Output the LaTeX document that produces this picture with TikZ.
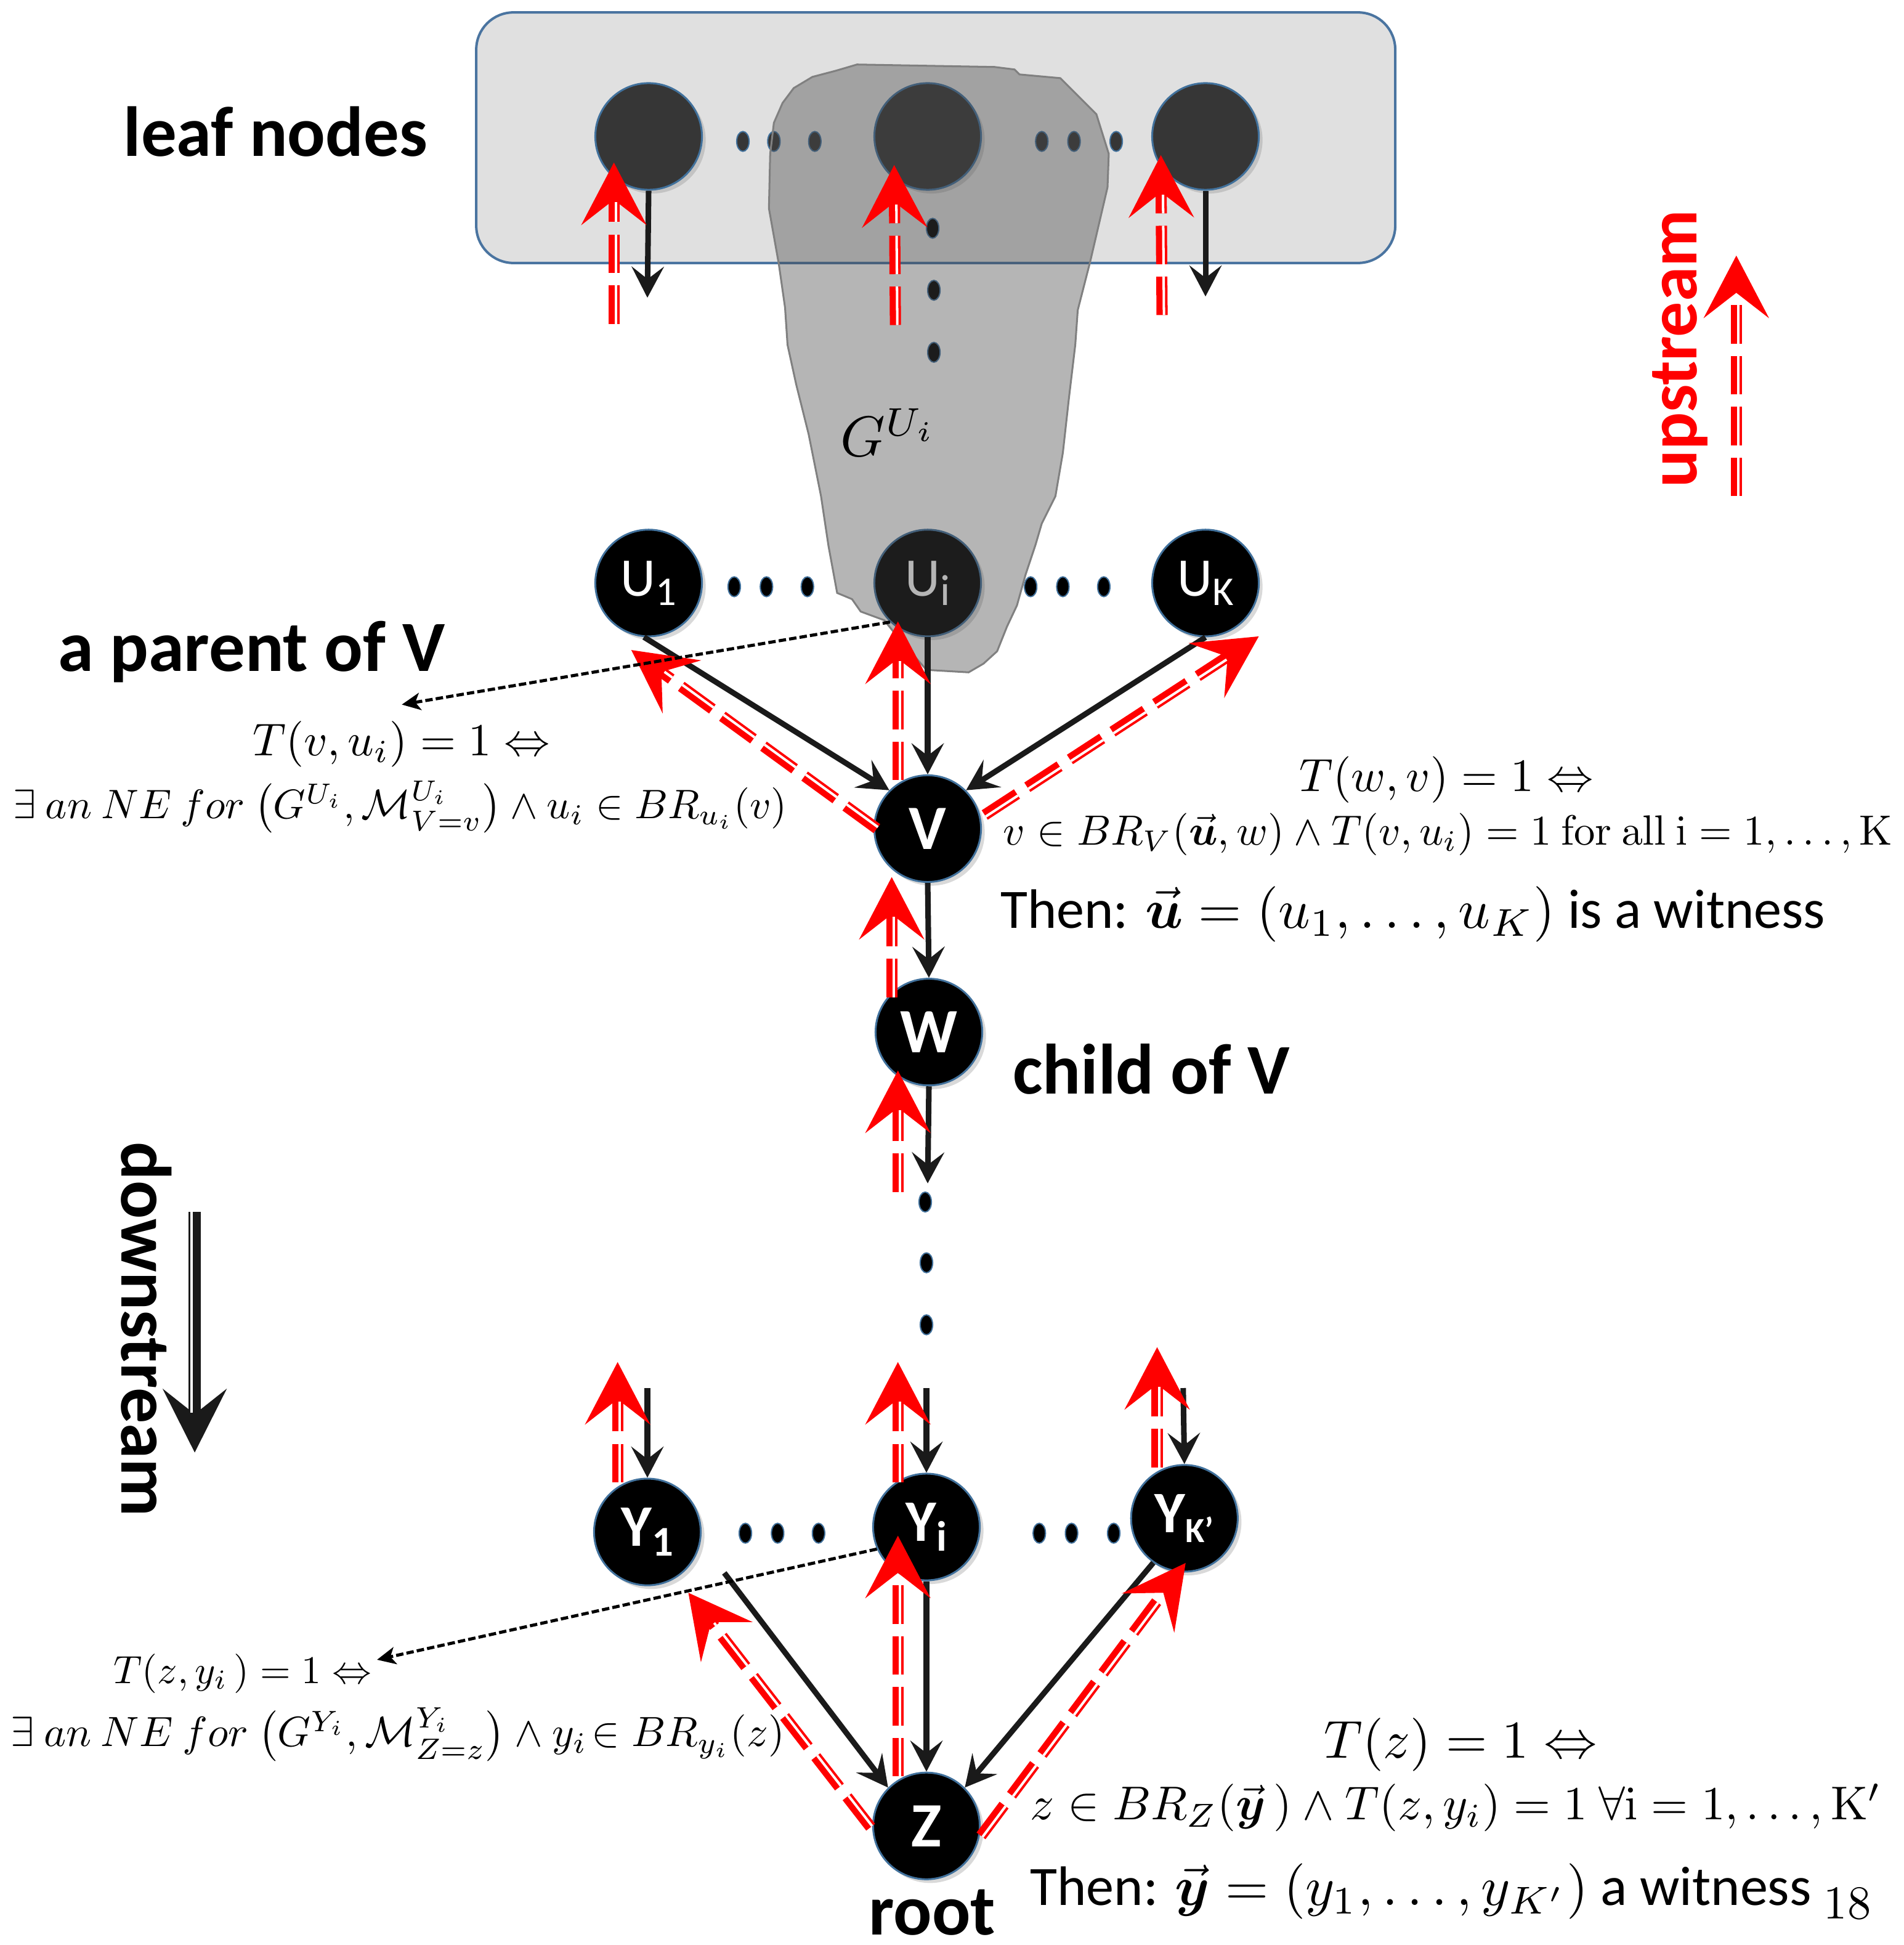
\documentclass[tikz,border=0pt]{standalone}
\usepackage{amsmath,amssymb}
\usepackage[no-math]{fontspec}
\setmainfont{Carlito}
\usepackage{graphicx}
\usetikzlibrary{arrows.meta,calc,shapes.geometric,shadows}
\definecolor{nodeedge}{HTML}{41719C}
\definecolor{leafgray}{HTML}{363636}
\definecolor{boxgray}{HTML}{E0E0E0}
\definecolor{boxedge}{HTML}{4A74A0}
\definecolor{blobfill}{RGB}{70,70,70}
\definecolor{blobedge}{RGB}{128,128,128}
\definecolor{arrred}{HTML}{FF0000}
\definecolor{arrblack}{HTML}{1A1A1A}
\newcommand\lsub[2][0.72]{\raisebox{-0.35ex}{\scalebox{#1}{#2}}}
\newcommand\redarr[2]{%
  \draw[redmain] (#1) -- (#2);
  \draw[redstripe] ($(#1)!0.15mm!-90:(#2)$) -- ($(#2)!0.15mm!90:(#1)$);
}
\tikzset{
  gnode/.style={circle, fill=black, draw=nodeedge, line width=0.15mm, minimum size=8.6mm, inner sep=0pt, text=white,
    font=\fontsize{14.5}{15}\selectfont\bfseries,
    drop shadow={shadow xshift=0.3mm, shadow yshift=-0.3mm, opacity=0.3}},
  leafnode/.style={gnode, fill=leafgray},
  unode/.style={gnode, font=\fontsize{12.5}{13}\selectfont},
  dotn/.style={ellipse, fill=black, draw=nodeedge, line width=0.1mm, minimum width=1mm, minimum height=1.6mm, inner sep=0pt},
  leafdot/.style={dotn, fill=leafgray},
  blk/.style={draw=arrblack, line width=0.45mm, -{Stealth[length=2.5mm,width=2.6mm,inset=1mm]}},
  redmain/.style={draw=arrred, line width=0.9mm, dash pattern=on 3.1mm off 1mm, -{Stealth[length=5mm,width=5.2mm,inset=2mm]}},
  redstripe/.style={draw=white, line width=0.2mm, dash pattern=on 3.1mm off 1mm, shorten >=3.2mm},
  ptr/.style={draw=black, line width=0.25mm, dash pattern=on 0.6mm off 0.25mm, -{Stealth[length=1.5mm,width=1.4mm,inset=0.4mm]}},
  heading/.style={inner sep=0pt, font=\bfseries, anchor=base west},
  mtext/.style={inner sep=0pt, anchor=base west},
}
\begin{document}
\begin{tikzpicture}[x=0.1mm,y=-0.1mm]
\useasboundingbox (0,0) rectangle (1535,1568);

% leaf box
\draw[fill=boxgray, draw=boxedge, line width=0.2mm, rounded corners=3mm] (384,10) rectangle (1125,212);

% leaf nodes and dots
\node[leafnode] (L1) at (523,110) {};
\node[leafnode] (L2) at (748,110) {};
\node[leafnode] (L3) at (972,110) {};
\node[leafdot] (ld1) at (599,114) {};
\node[leafdot] (ld2) at (624,114) {};
\node[leafdot] (ld3) at (657,114) {};
\node[leafdot] (ld4) at (840,114) {};
\node[leafdot] (ld5) at (866,114) {};
\node[leafdot] (ld6) at (900,114) {};
\node[dotn] (vd1) at (752,184) {};
\node[dotn] (vd2) at (753,234) {};
\node[dotn] (vd3) at (753,284) {};

% parents
\node[unode] (U1) at (523,470) {U\lsub[0.75]{1}};
\node[unode] (Ui) at (748,470) {U\lsub[0.8]{i}};
\node[unode] (UK) at (972,470) {U\lsub[0.75]{K}};
\node[dotn] (ud1) at (592,473) {};
\node[dotn] (ud2) at (618,473) {};
\node[dotn] (ud3) at (651,473) {};
\node[dotn] (ud4) at (831,473) {};
\node[dotn] (ud5) at (857,473) {};
\node[dotn] (ud6) at (890,473) {};

% subgame blob
\draw[fill=blobfill, fill opacity=0.4, draw=blobedge, line width=0.15mm]
  (691,52) -- (802,54) -- (818,56) -- (822,60) -- (855,63) -- (874,82) -- (884,92) -- (894,124)
  -- (893,151) -- (879,211) -- (869,250) -- (867,278) -- (862,320) -- (857,365) -- (851,400)
  -- (840,422) -- (835,439) -- (827,463) -- (820,488) -- (812,505) -- (804,525) -- (793,535)
  -- (781,542) -- (747,540) -- (725,515) -- (713,500) -- (694,493) -- (687,483) -- (675,478)
  -- (668,440) -- (662,400) -- (652,350) -- (642,310) -- (635,278) -- (633,248) -- (628,213)
  -- (620,168) -- (621,124) -- (624,99) -- (631,83) -- (640,71) -- (655,62) -- (674,57) -- cycle;
\node[mtext] (gui) at (677,368) {\resizebox{7.8mm}{!}{$G^{U_i}$}};

% main chain
\node[gnode] (V) at (748,668) {V};
\node[gnode] (W) at (749,832) {W};
\node[dotn] (wd1) at (746,969) {};
\node[dotn] (wd2) at (747,1018) {};
\node[dotn] (wd3) at (747,1068) {};
\node[gnode, font=\fontsize{13.5}{14}\selectfont\bfseries] (Y1) at (522,1235) {Y\lsub{1}};
\node[gnode, font=\fontsize{13.5}{14}\selectfont\bfseries] (Yi) at (747,1231) {Y\lsub{i}};
\node[gnode, font=\fontsize{13.5}{14}\selectfont\bfseries] (YK) at (955,1224) {Y\lsub[0.6]{K’}};
\node[dotn] (yd1) at (601,1236) {};
\node[dotn] (yd2) at (627,1236) {};
\node[dotn] (yd3) at (660,1236) {};
\node[dotn] (yd4) at (838,1236) {};
\node[dotn] (yd5) at (864,1236) {};
\node[dotn] (yd6) at (898,1236) {};
\node[gnode] (Z) at (747,1472) {Z};

% headings
\node[heading] (hleaf) at (99,126) {\resizebox{24.5mm}{!}{leaf nodes}};
\node[heading] (hpar) at (46,541) {\resizebox{31.2mm}{!}{a parent of V}};
\node[heading] (hchild) at (816,882) {\resizebox{22.3mm}{!}{child of V}};
\node[heading] (hroot) at (700,1560) {\resizebox{10.2mm}{!}{root}};
\node[heading, rotate=90, text=arrred] (hup) at (1368,394) {\resizebox{22.4mm}{!}{upstream}};
\node[heading, rotate=-90] (hdown) at (98,920) {\resizebox{30.2mm}{!}{downstream}};

% formulas
\node[mtext] (t1) at (203,609) {\resizebox{24mm}{!}{$T(v,u_i)=1\Leftrightarrow$}};
\node[mtext] (t2) at (10,660) {\resizebox{62.4mm}{!}{$\exists\ an\ NE\ for\ \bigl(G^{U_i},\mathcal{M}^{U_i}_{V=v}\bigr)\wedge u_i\in BR_{u_i}(v)$}};
\node[mtext] (t3) at (1047,638) {\resizebox{23.7mm}{!}{$T(w,v)=1\Leftrightarrow$}};
\node[mtext] (t4) at (808,681) {\resizebox{71.7mm}{!}{$v\in BR_V(\vec{\boldsymbol{u}},w)\wedge T(v,u_i)=1\ \mathrm{for\ all\ i}=1,\ldots,\mathrm{K}$}};
\node[mtext] (t5) at (806,748) {\resizebox{66.5mm}{!}{Then: $\vec{\boldsymbol{u}}=(u_1,\ldots,u_K)$ is a witness}};
\node[mtext] (t6) at (91,1357) {\resizebox{20.8mm}{!}{$T(z,y_i\,)=1\Leftrightarrow$}};
\node[mtext] (t7) at (8,1408) {\resizebox{62.4mm}{!}{$\exists\ an\ NE\ for\ \bigl(G^{Y_i},\mathcal{M}^{Y_i}_{Z=z}\bigr)\wedge y_i\!\in BR_{y_i}(z)$}};
\node[mtext] (t8) at (1067,1417) {\resizebox{22mm}{!}{$T(z)=1\Leftrightarrow$}};
\node[mtext] (t9) at (830,1467) {\resizebox{68.6mm}{!}{$z\in BR_Z(\vec{\boldsymbol{y}}\,)\wedge T(z,y_i)=1\ \forall\mathrm{i}=1,\ldots,\mathrm{K}'$}};
\node[mtext] (t10) at (830,1536) {\resizebox{67.8mm}{!}{Then: $\vec{\boldsymbol{y}}=(y_1,\ldots,y_{K'})$ a witness \raisebox{-0.5ex}{\scalebox{0.85}{$18$}}}};

% black arrows
\coordinate (l1e) at (522,240);
\coordinate (l3e) at (972,239);
\draw[blk] (L1.south) -- (l1e);
\draw[blk] (L3.south) -- (l3e);
\draw[blk] (U1.265) -- (V.135);
\draw[blk] (Ui.south) -- (V.north);
\draw[blk] (UK.south) -- (V.45);
\draw[blk] (V.south) -- (W.north);
\coordinate (we) at (748,954);
\draw[blk] (W.south) -- (we);
\coordinate (y1s) at (522,1119);
\coordinate (yis) at (747,1119);
\coordinate (yks) at (954,1119);
\draw[blk] (y1s) -- (Y1.north);
\draw[blk] (yis) -- (Yi.north);
\draw[blk] (yks) -- (YK.north);
\coordinate (y1z) at (584,1268);
\draw[blk] (y1z) -- (Z.135);
\draw[blk] (Yi.south) -- (Z.north);
\draw[blk] (YK.235) -- (Z.45);

% downstream arrow
\coordinate (ds0) at (157,977);
\coordinate (ds1) at (157,1171);
\draw[draw=arrblack, line width=1mm, -{Stealth[length=5.1mm,width=5.1mm,inset=2mm]}] (ds0) -- (ds1);
\draw[white, line width=0.2mm, shorten >=3.2mm] ($(ds0)!0.23mm!-90:(ds1)$) -- ($(ds1)!0.23mm!90:(ds0)$);

% red upstream arrows
\coordinate (ra1) at (495,261);  \coordinate (rb1) at (495,131);
\coordinate (ra2) at (722,262);  \coordinate (rb2) at (721,133);
\coordinate (ra3) at (937,254);  \coordinate (rb3) at (936,125);
\coordinate (up0) at (1400,400); \coordinate (up1) at (1400,206);
\coordinate (ra4) at (707,668);  \coordinate (rb4) at (509,524);
\coordinate (ra5) at (724,629);  \coordinate (rb5) at (724,501);
\coordinate (ra6) at (794,657);  \coordinate (rb6) at (1015,513);
\coordinate (ra7) at (719,804);  \coordinate (rb7) at (719,707);
\coordinate (ra8) at (724,961);  \coordinate (rb8) at (724,863);
\coordinate (ra9) at (498,1195); \coordinate (rb9) at (498,1098);
\coordinate (ra10) at (724,1195); \coordinate (rb10) at (724,1098);
\coordinate (ra11) at (933,1183); \coordinate (rb11) at (933,1086);
\coordinate (ra12) at (702,1473); \coordinate (rb12) at (555,1284);
\coordinate (ra13) at (724,1432); \coordinate (rb13) at (724,1238);
\coordinate (ra14) at (791,1480); \coordinate (rb14) at (956,1260);
\redarr{ra1}{rb1}
\redarr{ra2}{rb2}
\redarr{ra3}{rb3}
\redarr{up0}{up1}
\redarr{ra4}{rb4}
\redarr{ra5}{rb5}
\redarr{ra6}{rb6}
\redarr{ra7}{rb7}
\redarr{ra8}{rb8}
\redarr{ra9}{rb9}
\redarr{ra10}{rb10}
\redarr{ra11}{rb11}
\redarr{ra12}{rb12}
\redarr{ra13}{rb13}
\redarr{ra14}{rb14}

% pointers to the conditions
\coordinate (pp1) at (324,568);
\coordinate (pp2) at (304,1338);
\draw[ptr] (Ui.226) -- (pp1);
\draw[ptr] (Yi.204) -- (pp2);
\end{tikzpicture}
\end{document}
